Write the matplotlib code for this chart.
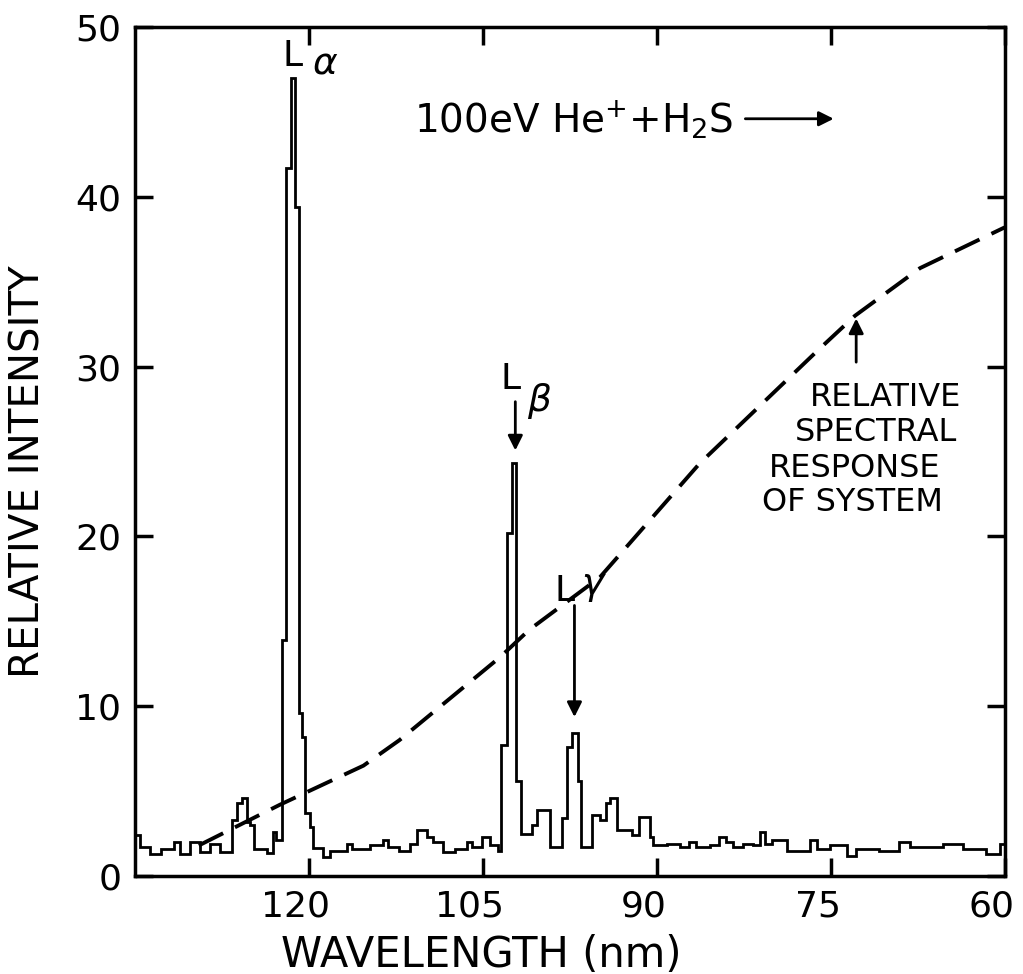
import matplotlib.pyplot as plt
from matplotlib.transforms import ScaledTranslation
import numpy as np

# histogram trace, step edges in nm as read left -> right (wavelength decreasing)
edges = [135.0, 134.6, 133.7, 132.8, 131.6, 131.1, 130.3, 129.4, 128.5, 127.7,
         126.6, 126.2, 125.8, 125.3, 125.1, 124.7, 123.6, 123.1, 122.8, 122.3,
         122.0, 121.55, 121.2, 120.9, 120.6, 120.35, 119.9, 119.65, 118.8, 118.2,
         116.7, 116.3, 114.7, 113.6, 113.2, 112.2, 111.3, 110.7, 109.8, 109.3,
         108.4, 107.4, 106.4, 105.9, 105.1, 104.4, 103.7, 103.4, 102.9, 102.5,
         102.1, 101.7, 100.8, 100.3, 99.2, 98.2, 97.7, 97.3, 96.8, 96.5,
         95.6, 94.9, 94.4, 94.0, 93.4, 92.1, 91.5, 90.6, 90.3, 89.1,
         88.0, 87.2, 86.6, 85.4, 84.6, 84.0, 83.4, 82.6, 81.7, 81.1,
         80.7, 80.1, 78.8, 76.8, 76.2, 75.1, 73.6, 72.8, 70.8, 69.1,
         68.2, 65.3, 63.6, 61.6, 60.4, 60.0]
counts = [2.4, 1.7, 1.3, 1.6, 2.0, 1.3, 2.0, 1.4, 1.9,
          1.4, 3.3, 4.3, 4.6, 3.2, 3.0, 1.6, 1.35, 2.6, 2.1,
          13.9, 41.7, 47.0, 39.4, 9.6, 8.2, 3.7, 2.9, 1.65, 1.1,
          1.5, 1.9, 1.6, 1.8, 2.1, 1.7, 1.5, 1.9, 2.7, 2.3,
          2.0, 1.4, 1.6, 2.0, 1.7, 2.3, 1.8, 1.5, 7.7, 20.2,
          24.3, 5.6, 2.5, 3.0, 3.9, 1.7, 3.4, 7.6, 8.4, 5.6,
          1.7, 3.6, 3.3, 4.3, 4.6, 2.7, 2.4, 3.5, 2.3, 1.8,
          1.9, 1.7, 2.0, 1.7, 1.8, 2.3, 2.0, 1.7, 1.9, 1.8,
          2.6, 1.9, 2.1, 1.5, 2.1, 1.6, 1.8, 1.2, 1.6, 1.5,
          2.0, 1.7, 1.9, 1.6, 1.3, 1.9]

# relative spectral response of the system (dashed curve)
resp_nm = [129.5, 126.0, 122.5, 120.0, 115.3, 112.2, 103.5, 101.0, 94.9,
           86.3, 76.2, 72.9, 67.3, 60.0]
resp_val = [1.8, 3.0, 4.2, 5.0, 6.5, 8.0, 12.9, 14.5, 17.6,
            24.3, 30.9, 33.0, 35.8, 38.2]

xticks = [120, 105, 90, 75, 60]
yticks = [0, 10, 20, 30, 40, 50]

fig = plt.figure(figsize=(10.23, 9.74), dpi=100)
ax = fig.add_axes([0.132, 0.1006, 0.85, 0.8716])

ax.stairs(np.array(counts)[::-1], np.array(edges)[::-1], baseline=None,
          color='black', lw=2)
ax.plot(resp_nm, resp_val, color='black', lw=2.8, dashes=(7, 3.4))

ax.set_xlim(135, 60)
ax.set_ylim(0, 50)
ax.set_xticks(xticks)
ax.set_yticks(yticks)
ax.tick_params(direction='in', length=13, width=2.5, top=True, right=True,
               labelsize=26, pad=10)
for s in ax.spines.values():
    s.set_linewidth(2.5)

# x tick labels sit a little left of their ticks in the original
shift = ScaledTranslation(-0.13, 0, fig.dpi_scale_trans)
for lab in ax.get_xticklabels():
    lab.set_transform(lab.get_transform() + shift)

ax.set_xlabel('WAVELENGTH (nm)', fontsize=30)
ax.xaxis.set_label_coords(0.398, -0.068)
ax.set_ylabel('RELATIVE INTENSITY', fontsize=29)
ax.yaxis.set_label_coords(-0.1, 0.476)

# line labels
ax.text(122.3, 47.7, 'L', fontsize=26)
ax.text(119.7, 47.2, 'α', fontsize=27, fontstyle='italic')
ax.text(103.5, 28.7, 'L', fontsize=26)
ax.text(101.2, 27.4, 'β', fontsize=27, fontstyle='italic')
ax.text(98.8, 16.2, 'L', fontsize=26)
ax.text(96.5, 16.6, 'γ', fontsize=27, fontstyle='italic')
arw = dict(arrowstyle='-|>', lw=2, color='black', mutation_scale=22)
ax.annotate('', xy=(102.2, 24.9), xytext=(102.2, 28.1), arrowprops=arw)
ax.annotate('', xy=(97.1, 9.2), xytext=(97.1, 16.1), arrowprops=arw)

# reaction label
ax.text(110.9, 43.8, '100eV He$^{+}$+H$_2$S', fontsize=28)
ax.annotate('', xy=(74.5, 44.6), xytext=(82.6, 44.6), arrowprops=arw)

# response curve note
ax.text(76.8, 27.7, 'RELATIVE', fontsize=23)
ax.text(78.1, 25.6, 'SPECTRAL', fontsize=23)
ax.text(80.3, 23.5, 'RESPONSE', fontsize=23)
ax.text(80.9, 21.5, 'OF SYSTEM', fontsize=23)
ax.annotate('', xy=(72.8, 33.0), xytext=(72.8, 30.1), arrowprops=arw)

fig.savefig('out.png', dpi=100)
